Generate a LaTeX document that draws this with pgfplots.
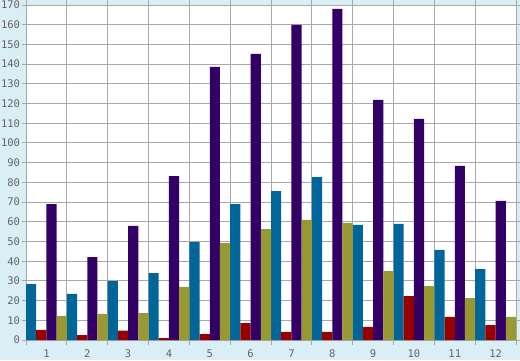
\documentclass[border=0pt]{standalone}
\usepackage{pgfplots}
\pgfplotsset{compat=1.18}
\usepackage{fontspec}
\setmainfont{DejaVu Sans Mono}
\definecolor{bg}{RGB}{218,238,246}
\definecolor{gridgray}{RGB}{168,168,168}
\definecolor{labelgray}{RGB}{100,100,100}
\definecolor{cteal}{RGB}{0,102,153}
\definecolor{cred}{RGB}{153,0,0}
\definecolor{cpurple}{RGB}{51,0,102}
\definecolor{colive}{RGB}{153,153,51}
\begin{document}
\begin{tikzpicture}[x=1pt,y=1pt]
\path[use as bounding box, fill=bg] (0,0) rectangle (520,360);
\begin{axis}[at={(26pt,20pt)}, anchor=south west, scale only axis,
  width=490pt, height=335pt,
  xmin=0.5, xmax=12.5, ymin=0, ymax=170, enlargelimits=false,
  ybar=0pt, bar width=0.25,
  xtick={1,...,12}, minor xtick={0.5,1.5,...,12.5}, xminorgrids,
  ytick={0,10,...,170}, ymajorgrids,
  tick align=outside, major tick length=4pt, minor tick length=5pt,
  major x tick style={draw=none},
  grid style={draw=gridgray, line width=0.9pt},
  minor grid style={draw=gridgray, line width=0.9pt},
  axis line style={draw=gridgray, line width=0.9pt},
  tick style={draw=gridgray, line width=0.9pt},
  axis background/.style={fill=white},
  /pgf/number format/assume math mode=true,
  ticklabel style={font=\fontsize{10.5}{12}\selectfont, text=labelgray},
  xticklabel style={yshift=-2pt},
  yticklabel style={xshift=1.5pt},
]
\addplot[fill=cteal, draw=none] coordinates {(1,28.4) (2,23.4) (3,29.9) (4,34) (5,49.7) (6,69) (7,75.6) (8,82.7) (9,58.4) (10,58.9) (11,45.7) (12,36)};
\addplot[fill=cred, draw=none] coordinates {(1,5.1) (2,2.5) (3,4.7) (4,1) (5,3) (6,8.6) (7,4.1) (8,4.1) (9,6.6) (10,22.3) (11,11.7) (12,7.6)};
\addplot[fill=cpurple, draw=none] coordinates {(1,69) (2,42.1) (3,57.9) (4,83.2) (5,138.6) (6,145.2) (7,159.9) (8,168) (9,121.8) (10,112.2) (11,88.3) (12,70.6)};
\addplot[fill=colive, draw=none] coordinates {(1,12.2) (2,13.2) (3,13.7) (4,26.9) (5,49.2) (6,56.3) (7,60.9) (8,59.4) (9,35) (10,27.4) (11,21.3) (12,11.7)};
\end{axis}
\end{tikzpicture}
\end{document}
